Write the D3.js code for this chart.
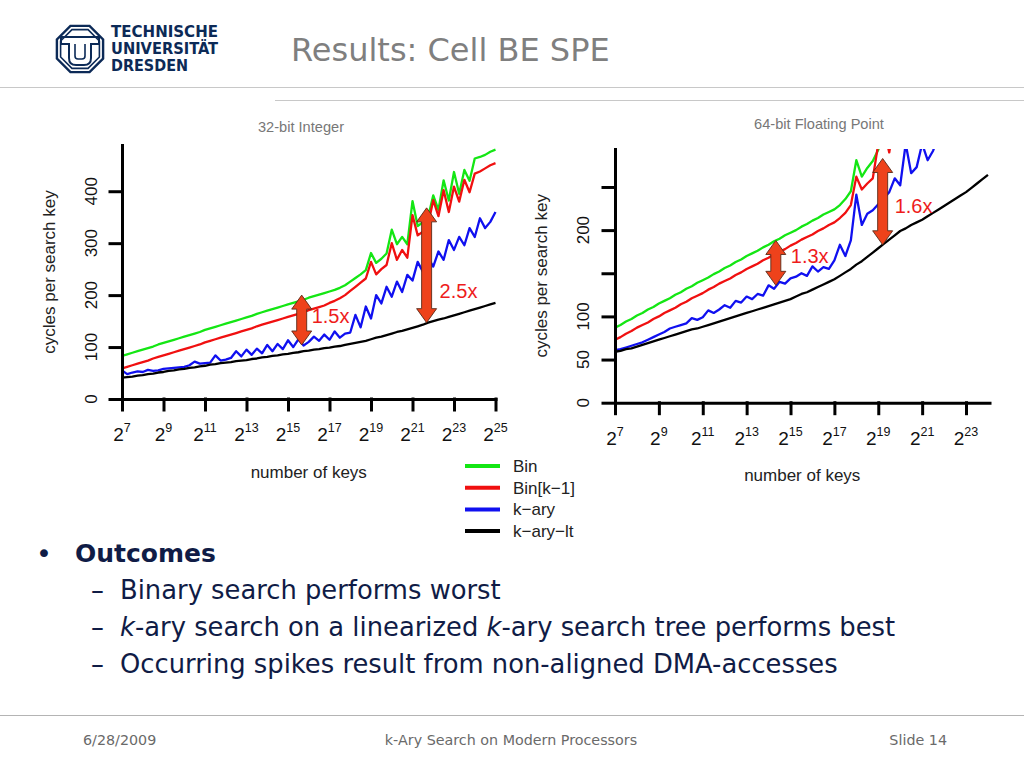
<!DOCTYPE html>
<html>
<head>
<meta charset="utf-8">
<script src="https://cdn.jsdelivr.net/npm/d3@7"></script>
<style>
  body { margin: 0; background: #fff; }
  svg { display: block; }
</style>
</head>
<body>
<svg id="slide" width="1024" height="768"></svg>
<script>
// ---------------- DATA ----------------
// x = log2(number of keys)
const keyExp32 = [7,7.25,7.5,7.75, 8,8.25,8.5,8.75, 9,9.25,9.5,9.75, 10,10.25,10.5,10.75,
  11,11.25,11.5,11.75, 12,12.25,12.5,12.75, 13,13.25,13.5,13.75, 14,14.25,14.5,14.75,
  15,15.25,15.5,15.75, 16,16.25,16.5,16.75, 17,17.25,17.5,17.75, 18,18.25,18.5,18.75,
  19,19.25,19.5,19.75, 20,20.25,20.5,20.75, 21,21.25,21.5,21.75, 22,22.25,22.5,22.75,
  23,23.25,23.5,23.75, 24,24.25,24.5,24.75, 25];
const bin32 = [83,86,89,92, 95,98,101,105, 108,111,114,117, 120,123,126,129, 133,136,139,142,
  145,148,151,154, 157,160,164,167, 170,173,176,179, 182,185,188,191, 195,198,201,204,
  207,210,214,219, 226,233,240,248, 281,262,270,280, 326,298,312,298, 381,333,340,350,
  392,364,421,382, 437,395,441,420, 463,466,470,476, 480];
const binK32 = [59,62,65,68, 71,74,78,81, 84,87,90,93, 96,99,102,105, 109,112,115,118,
  121,124,127,130, 133,136,140,143, 146,149,152,155, 158,161,164,167, 171,174,177,180,
  185,189,194,200, 208,216,224,232, 264,240,250,258, 300,268,287,272, 354,315,322,335,
  383,352,402,360, 409,380,422,398, 434,438,444,450, 454];
const kary32 = [55,48,51,53, 52,56,54,55, 58,59,60,61, 62,65,72,68, 69,70,84,74,
  76,79,92,82, 95,85,97,88, 104,92,106,96, 113,100,115,103, 110,120,112,124,
  114,130,118,126, 128,162,138,178, 155,200,184,216, 197,226,206,239, 228,264,245,272,
  255,284,268,306, 287,312,296,329, 312,348,329,341, 360];
const karyLt32 = [41,42,43,45, 46,48,49,51, 52,54,55,57, 58,60,61,63, 64,66,67,69,
  70,71,73,74, 75,77,78,80, 81,83,84,86, 87,89,90,92, 93,95,96,98,
  99,101,102,104, 106,108,110,112, 115,118,120,123, 126,129,131,134, 137,140,143,147,
  150,153,155,158, 161,164,167,170, 173,176,179,182, 185];

const keyExp64 = [7,7.25,7.5,7.75, 8,8.25,8.5,8.75, 9,9.25,9.5,9.75, 10,10.25,10.5,10.75,
  11,11.25,11.5,11.75, 12,12.25,12.5,12.75, 13,13.25,13.5,13.75, 14,14.25,14.5,14.75,
  15,15.25,15.5,15.75, 16,16.25,16.5,16.75, 17,17.25,17.5,17.75, 18,18.25,18.5,18.75,
  19,19.25,19.5,19.75, 20,20.25,20.5,20.75, 21,21.25,21.5,21.75, 22,22.25,22.5,22.75,
  23,23.25,23.5,23.75, 24];
const bin64 = [87,90,94,97, 101,104,108,111, 115,118,121,125, 128,132,135,139, 142,145,149,152,
  156,159,163,166, 170,173,176,180, 183,187,190,194, 197,200,204,207, 211,214,218,221,
  224,229,236,245, 281,262,272,280, 293,312];
const binK64 = [73,76,80,83, 87,90,93,97, 100,104,107,110, 114,117,121,124, 127,131,134,138,
  141,144,148,151, 155,158,161,165, 168,172,175,178, 182,185,189,192, 195,199,202,206,
  209,214,220,229, 262,247,254,260, 300,318,290,330];
const kary64 = [61,62,64,66, 68,70,73,76, 79,82,86,88, 90,92,98,96, 99,107,104,108,
  113,110,118,116, 123,120,126,124, 136,132,140,138, 144,146,150,147, 158,152,157,155,
  165,183,170,188, 241,206,219,223, 230,237,244,260, 252,300,266,273, 300,281,292,310];
const karyLt64 = [59,60,62,63, 65,67,69,71, 73,75,77,79, 81,83,85,86, 88,90,92,94,
  96,98,100,102, 104,106,108,110, 112,114,116,118, 120,123,126,128, 131,134,137,140,
  143,147,151,155, 160,164,169,174, 179,184,189,194, 199,202,206,209, 212,216,220,224,
  228,232,236,240, 244,249,254,259, 264];

const seriesNames = ["Bin", "Bin[k\u22121]", "k\u2212ary", "k\u2212ary\u2212lt"];
const seriesColors = ["#14e614", "#f01010", "#1010f0", "#000000"];

const xTicks32 = [7,9,11,13,15,17,19,21,23,25];
const yTicks32 = [0,100,200,300,400];
const yLabels32 = [0,100,200,300,400];
const xTicks64 = [7,9,11,13,15,17,19,21,23];
const yTicks64 = [0,50,100,150,200,250];
const yLabels64 = [0,50,100,200];

// annotation arrows: position (log2 keys), low / high value, label
const arrowExp32 = [15.66, 21.68];
const arrowLow32 = [104, 147];
const arrowHigh32 = [200, 368];
const arrowLabelV32 = [146, 194];
const arrowLabel32 = ["1.5x", "2.5x"];
const arrowExp64 = [14.33, 19.2];
const arrowLow64 = [136, 183];
const arrowHigh64 = [188, 283];
const arrowLabelV64 = [162, 220];
const arrowLabel64 = ["1.3x", "1.6x"];

// ---------------- DRAW ----------------
const svg = d3.select("#slide");
svg.append("rect").attr("width", 1024).attr("height", 768).attr("fill", "#fff");

const chartFont = "'Liberation Sans', Arial, sans-serif";
const slideFont = "'DejaVu Sans', Verdana, sans-serif";

function drawChart(cfg) {
  const g = svg.append("g");
  const x = d3.scaleLinear().domain(cfg.xDomain).range(cfg.xRange);
  const y = d3.scaleLinear().domain(cfg.yDomain).range(cfg.yRange);
  const clipId = "clip" + cfg.id;
  svg.append("clipPath").attr("id", clipId).append("rect")
    .attr("x", cfg.xRange[0]).attr("y", cfg.yRange[1])
    .attr("width", cfg.xRange[1] - cfg.xRange[0] + 2)
    .attr("height", cfg.yRange[0] - cfg.yRange[1]);

  // title
  g.append("text").attr("x", cfg.titleX).attr("y", cfg.titleY)
    .attr("text-anchor", "middle").attr("font-family", chartFont)
    .attr("font-size", 14.6).attr("fill", "#777").text(cfg.title);

  // series
  const line = d3.line().x(d => x(d[0])).y(d => y(d[1]));
  const lg = g.append("g").attr("clip-path", `url(#${clipId})`);
  cfg.series.forEach((vals, i) => {
    const pts = vals.map((v, j) => [cfg.keys[j], v]);
    lg.append("path").datum(pts).attr("d", line)
      .attr("fill", "none").attr("stroke", seriesColors[i])
      .attr("stroke-width", 2.3).attr("stroke-linejoin", "round");
  });

  // axes
  const ya = d3.axisLeft(y).tickValues(cfg.yTicks).tickSize(12).tickSizeOuter(0).tickFormat("");
  const yg = g.append("g").attr("transform", `translate(${cfg.xRange[0]},0)`).call(ya);
  const xa = d3.axisBottom(x).tickValues(cfg.xTicks).tickSize(11).tickSizeOuter(0).tickFormat("");
  const xg = g.append("g").attr("transform", `translate(0,${cfg.yRange[0]})`).call(xa);
  [yg, xg].forEach(a => {
    a.selectAll("path, line").attr("stroke", "#000").attr("stroke-width", 3).attr("stroke-linecap", "square");
  });

  // y tick labels (rotated, R style)
  g.selectAll(null).data(cfg.yLabels).join("text")
    .attr("transform", d => `translate(${cfg.yLabelX},${y(d)}) rotate(-90)`)
    .attr("text-anchor", "middle").attr("font-family", chartFont)
    .attr("font-size", 17).attr("fill", "#111").text(d => d);

  // x tick labels 2^n
  g.selectAll(null).data(cfg.xTicks).join("text")
    .attr("x", d => x(d)).attr("y", cfg.xLabelY)
    .attr("text-anchor", "middle").attr("font-family", chartFont)
    .attr("font-size", 19).attr("fill", "#111")
    .each(function(d) {
      const t = d3.select(this);
      t.append("tspan").text("2");
      t.append("tspan").attr("dy", -9).attr("font-size", 12.5).text(d);
    });

  // axis titles
  g.append("text").attr("x", (cfg.xRange[0] + cfg.xRange[1]) / 2 + cfg.xTitleDx).attr("y", cfg.xTitleY)
    .attr("text-anchor", "middle").attr("font-family", chartFont)
    .attr("font-size", 17).attr("fill", "#222").text("number of keys");
  g.append("text")
    .attr("transform", `translate(${cfg.yTitleX},${(cfg.yRange[0] + cfg.yRange[1]) / 2}) rotate(-90)`)
    .attr("text-anchor", "middle").attr("font-family", chartFont)
    .attr("font-size", 17).attr("fill", "#222").text("cycles per search key");

  // arrows
  const ag = g.append("g");
  cfg.arrowExp.forEach((e, i) => {
    const cx = x(e), top = y(cfg.arrowHigh[i]), bot = y(cfg.arrowLow[i]);
    const hh = 14, hw = 10, sw = 5;
    const p = d3.path();
    p.moveTo(cx, top);
    p.lineTo(cx + hw, top + hh); p.lineTo(cx + sw, top + hh);
    p.lineTo(cx + sw, bot - hh); p.lineTo(cx + hw, bot - hh);
    p.lineTo(cx, bot);
    p.lineTo(cx - hw, bot - hh); p.lineTo(cx - sw, bot - hh);
    p.lineTo(cx - sw, top + hh); p.lineTo(cx - hw, top + hh);
    p.closePath();
    ag.append("path").attr("d", p.toString()).attr("fill", "#ee421b")
      .attr("stroke", "#5a2a18").attr("stroke-width", 0.9).attr("stroke-linejoin", "miter");
    ag.append("text").attr("x", cx + cfg.labelDx[i]).attr("y", y(cfg.arrowLabelV[i]))
      .attr("font-family", chartFont).attr("font-size", 20).attr("fill", "#ee1c1c")
      .text(cfg.arrowLabel[i]);
  });
}

drawChart({
  id: "a", title: "32-bit Integer", titleX: 301, titleY: 132,
  keys: keyExp32, series: [bin32, binK32, kary32, karyLt32],
  xDomain: [7, 25], xRange: [122, 495.5],
  yDomain: [0, 489], yRange: [399, 145],
  xTicks: xTicks32, yTicks: yTicks32, yLabels: yLabels32,
  yLabelX: 97, xLabelY: 441, xTitleY: 478, xTitleDx: 0, yTitleX: 55,
  arrowExp: arrowExp32, arrowLow: arrowLow32, arrowHigh: arrowHigh32,
  arrowLabelV: arrowLabelV32, arrowLabel: arrowLabel32, labelDx: [10, 13]
});

drawChart({
  id: "b", title: "64-bit Floating Point", titleX: 819, titleY: 129,
  keys: keyExp64, series: [bin64, binK64, kary64, karyLt64],
  xDomain: [7, 24.07], xRange: [615, 989.5],
  yDomain: [0, 294], yRange: [402.7, 149],
  xTicks: xTicks64, yTicks: yTicks64, yLabels: yLabels64,
  yLabelX: 589, xLabelY: 445, xTitleY: 481, xTitleDx: 0, yTitleX: 547,
  arrowExp: arrowExp64, arrowLow: arrowLow64, arrowHigh: arrowHigh64,
  arrowLabelV: arrowLabelV64, arrowLabel: arrowLabel64, labelDx: [15, 12]
});

// legend
const leg = svg.append("g");
seriesNames.forEach((n, i) => {
  const ly = 466 + i * 21.7;
  leg.append("line").attr("x1", 465).attr("x2", 500).attr("y1", ly).attr("y2", ly)
    .attr("stroke", seriesColors[i]).attr("stroke-width", 4);
  leg.append("text").attr("x", 513).attr("y", ly + 6)
    .attr("font-family", chartFont).attr("font-size", 17).attr("fill", "#222").text(n);
});

// ---------------- SLIDE FRAME ----------------
const navy = "#0c2a57";
const logo = svg.append("g");
const oct = d3.range(8).map(k => {
  const a = Math.PI / 8 + k * Math.PI / 4;
  return [80 + 25 * Math.cos(a), 49 + 25 * Math.sin(a)];
});
const oct2 = d3.range(8).map(k => {
  const a = Math.PI / 8 + k * Math.PI / 4;
  return [80 + 21 * Math.cos(a), 49 + 21 * Math.sin(a)];
});
logo.append("polygon").attr("points", oct.join(" ")).attr("fill", "none").attr("stroke", navy).attr("stroke-width", 2.4);
logo.append("polygon").attr("points", oct2.join(" ")).attr("fill", "none").attr("stroke", navy).attr("stroke-width", 1.6);
logo.append("path").attr("d", "M61,37 H99 V44 H91 V58 Q91,65 84,65 H76 Q69,65 69,58 V44 H61 Z")
  .attr("fill", "none").attr("stroke", navy).attr("stroke-width", 2);
logo.append("path").attr("d", "M75,44 V56 Q75,59 78,59 H82 Q85,59 85,56 V44")
  .attr("fill", "none").attr("stroke", navy).attr("stroke-width", 1.6);
["TECHNISCHE", "UNIVERSIT\u00c4T", "DRESDEN"].forEach((t, i) => {
  const tx = svg.append("text").attr("x", 111).attr("y", 37 + i * 17)
    .attr("font-family", "'DejaVu Sans Condensed', 'DejaVu Sans', sans-serif")
    .attr("font-weight", "bold").attr("font-size", 15).attr("fill", navy).text(t);
  tx.attr("textLength", i === 2 ? 77 : 107).attr("lengthAdjust", "spacingAndGlyphs");
});

svg.append("text").attr("x", 291).attr("y", 61).attr("font-family", slideFont)
  .attr("font-size", 32).attr("fill", "#7f7f7f").text("Results: Cell BE SPE");

svg.append("line").attr("x1", 0).attr("x2", 1024).attr("y1", 87.5).attr("y2", 87.5)
  .attr("stroke", "#c8c8c8").attr("stroke-width", 1);
svg.append("line").attr("x1", 275).attr("x2", 1024).attr("y1", 100.5).attr("y2", 100.5)
  .attr("stroke", "#c8c8c8").attr("stroke-width", 1);

// bullets
const textNavy = "#101c46";
svg.append("text").attr("x", 36).attr("y", 563).attr("font-family", slideFont)
  .attr("font-size", 27).attr("fill", textNavy).text("\u2022");
svg.append("text").attr("x", 75).attr("y", 562).attr("font-family", slideFont)
  .attr("font-weight", "bold").attr("font-size", 25).attr("fill", textNavy).text("Outcomes");
const subLines = [
  [["Binary search performs worst", false]],
  [["k", true], ["-ary search on a linearized ", false], ["k", true], ["-ary search tree performs best", false]],
  [["Occurring spikes result from non-aligned DMA-accesses", false]]
];
subLines.forEach((parts, i) => {
  const by = 599 + i * 37;
  svg.append("text").attr("x", 91).attr("y", by).attr("font-family", slideFont)
    .attr("font-size", 25.8).attr("fill", textNavy).text("\u2013");
  const t = svg.append("text").attr("x", 120).attr("y", by).attr("font-family", slideFont)
    .attr("font-size", 25.8).attr("fill", textNavy);
  parts.forEach(p => t.append("tspan").attr("font-style", p[1] ? "italic" : "normal").text(p[0]));
});

// footer
svg.append("line").attr("x1", 0).attr("x2", 1024).attr("y1", 715.5).attr("y2", 715.5)
  .attr("stroke", "#b4b4b4").attr("stroke-width", 1);
const footY = 745;
svg.append("text").attr("x", 83).attr("y", footY).attr("font-family", slideFont)
  .attr("font-size", 14.3).attr("fill", "#6a6a6a").text("6/28/2009");
svg.append("text").attr("x", 511).attr("y", footY).attr("text-anchor", "middle").attr("font-family", slideFont)
  .attr("font-size", 14.3).attr("fill", "#6a6a6a").text("k-Ary Search on Modern Processors");
svg.append("text").attr("x", 947).attr("y", footY).attr("text-anchor", "end").attr("font-family", slideFont)
  .attr("font-size", 14.3).attr("fill", "#6a6a6a").text("Slide 14");
</script>
</body>
</html>
